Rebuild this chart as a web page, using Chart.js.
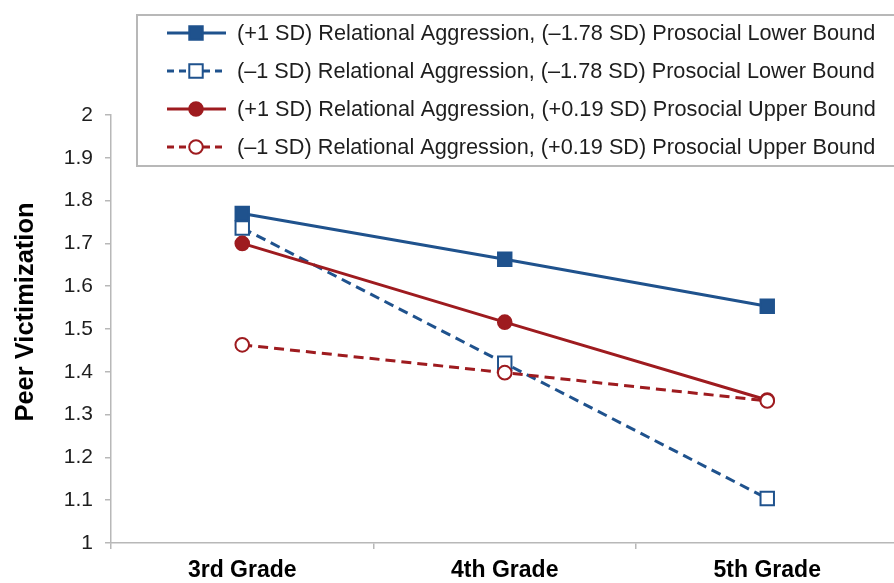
<!DOCTYPE html>
<html lang="en">
<head>
  <meta charset="UTF-8">
  <title>Peer Victimization by Grade</title>
  <script src="https://cdn.jsdelivr.net/npm/chart.js"></script>
  <style>
    body {
      margin: 0;
      overflow: hidden;
      background: #fff;
    }
    .wrap {
      position: relative;
      width: 910px;
      height: 583px;
    }
  </style>
</head>
<body>
<div class="wrap"><canvas id="peerChart"></canvas></div>

<script>
  // data
  const grades = ['3rd Grade', '4th Grade', '5th Grade'];
  const seriesNames = [
    '(+1 SD) Relational Aggression, (\u20131.78 SD) Prosocial Lower Bound',
    '(\u20131 SD) Relational Aggression, (\u20131.78 SD) Prosocial Lower Bound',
    '(+1 SD) Relational Aggression, (+0.19 SD) Prosocial Upper Bound',
    '(\u20131 SD) Relational Aggression, (+0.19 SD) Prosocial Upper Bound'
  ];
  const highRaLower = [1.770, 1.663, 1.553];
  const lowRaLower = [1.736, 1.420, 1.104];
  const highRaUpper = [1.700, 1.516, 1.334];
  const lowRaUpper = [1.463, 1.398, 1.332];
  const yTickValues = [1, 1.1, 1.2, 1.3, 1.4, 1.5, 1.6, 1.7, 1.8, 1.9, 2];
  const yTitle = 'Peer Victimization';

  const BLUE = '#1f528d';
  const RED = '#9e1b1f';
  const AXIS = '#b8b8b8';
  const FONT = '"Liberation Sans", Arial, sans-serif';

  function series(label, data, color, style, filled, dashed, order) {
    return {
      label: label,
      data: data,
      borderColor: color,
      borderWidth: 3,
      borderDash: dashed ? [10, 6] : [],
      pointStyle: style,
      pointRadius: style === 'rect' ? 9.5 : 6.8,
      pointBorderWidth: 2,
      pointBorderColor: color,
      pointBackgroundColor: filled ? color : '#ffffff',
      tension: 0,
      order: order
    };
  }

  // legend box over the top of the plot + the y title, placed like the original
  const boxLegend = {
    id: 'boxLegend',
    afterDraw(chart) {
      const ctx = chart.ctx;
      ctx.save();
      ctx.fillStyle = '#ffffff';
      ctx.fillRect(137, 15, 800, 151);
      ctx.strokeStyle = AXIS;
      ctx.lineWidth = 2;
      ctx.strokeRect(137, 15, 800, 151);

      chart.data.datasets.forEach((ds, i) => {
        const y = 33 + i * 38;
        ctx.strokeStyle = ds.borderColor;
        ctx.lineWidth = 3;
        ctx.setLineDash(ds.borderDash.length ? [7, 5] : []);
        ctx.beginPath();
        ctx.moveTo(167, y);
        ctx.lineTo(226, y);
        ctx.stroke();
        ctx.setLineDash([]);
        ctx.fillStyle = ds.pointBackgroundColor;
        ctx.strokeStyle = ds.pointBorderColor;
        ctx.lineWidth = 2;
        Chart.helpers.drawPoint(ctx, {
          pointStyle: ds.pointStyle,
          radius: ds.pointRadius,
          rotation: 0,
          borderWidth: 2
        }, 196, y);

        ctx.fillStyle = '#1e1e1e';
        ctx.font = '21.7px ' + FONT;
        ctx.textBaseline = 'middle';
        ctx.textAlign = 'left';
        ctx.fillText(ds.label, 237, y + 1);
      });

      // y axis title sits a little above the middle of the plot in the original
      ctx.translate(26, 312);
      ctx.rotate(-Math.PI / 2);
      ctx.fillStyle = '#000000';
      ctx.font = 'bold 25.5px ' + FONT;
      ctx.textAlign = 'center';
      ctx.textBaseline = 'middle';
      ctx.fillText(yTitle, 0, 0);
      ctx.restore();
    }
  };

  new Chart(document.getElementById('peerChart'), {
    type: 'line',
    data: {
      labels: grades,
      datasets: [
        series(seriesNames[0], highRaLower, BLUE, 'rect', true, false, 3),
        series(seriesNames[1], lowRaLower, BLUE, 'rect', false, true, 2),
        series(seriesNames[2], highRaUpper, RED, 'circle', true, false, 1),
        series(seriesNames[3], lowRaUpper, RED, 'circle', false, true, 0)
      ]
    },
    options: {
      responsive: true,
      maintainAspectRatio: false,
      animation: false,
      layout: {
        padding: { top: 115, right: 6, bottom: 0, left: 0 }
      },
      plugins: {
        legend: { display: false },
        tooltip: { enabled: false }
      },
      scales: {
        x: {
          type: 'category',
          offset: true,
          afterFit(scale) { scale.height = 40; },
          grid: {
            offset: true,
            drawOnChartArea: false,
            drawTicks: true,
            tickLength: 6,
            color: AXIS,
            lineWidth: 1.5
          },
          border: { display: true, color: AXIS, width: 1.5 },
          ticks: {
            color: '#000000',
            padding: 8,
            maxRotation: 0,
            font: { family: FONT, size: 23, weight: 'bold' }
          }
        },
        y: {
          min: 1,
          max: 2,
          afterFit(scale) { scale.width = 111; },
          afterBuildTicks(scale) {
            scale.ticks = yTickValues.map(v => ({ value: v }));
          },
          grid: {
            drawOnChartArea: false,
            drawTicks: true,
            tickLength: 6,
            color: AXIS,
            lineWidth: 1.5
          },
          border: { display: true, color: AXIS, width: 1.5 },
          ticks: {
            color: '#1e1e1e',
            padding: 12,
            font: { family: FONT, size: 21 },
            callback: v => String(Number(v.toFixed(1)))
          }
        }
      }
    },
    plugins: [boxLegend]
  });
</script>
</body>
</html>
